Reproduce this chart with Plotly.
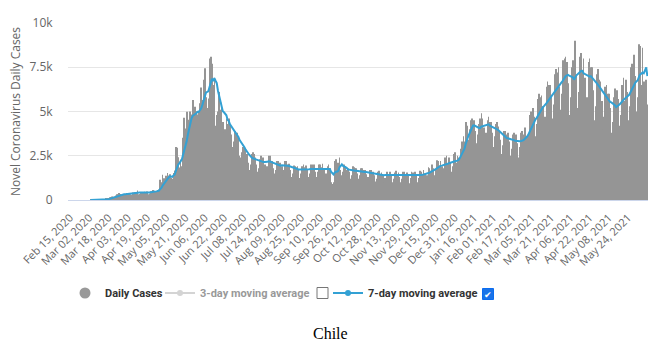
import pandas as pd
import plotly.graph_objects as go

START_DATE = "2020-02-15"

# Daily new cases, one row per week starting on Saturdays
DAILY_CASES = [
    0, 0, 0, 0, 0, 0, 0,
    0, 0, 0, 0, 0, 0, 0,
    0, 0, 0, 1, 2, 1, 1,
    3, 2, 3, 4, 6, 10, 10,
    25, 30, 90, 70, 80, 150, 170,
    200, 180, 200, 260, 330, 320, 390,
    340, 300, 280, 310, 330, 400, 390,
    370, 320, 300, 420, 430, 440, 430,
    540, 330, 340, 440, 400, 450, 470,
    440, 480, 320, 370, 500, 490, 560,
    520, 480, 490, 560, 600, 1140, 1000,
    1430, 1230, 980, 1370, 1530, 1390, 1450,
    1250, 1200, 1530, 1660, 3000, 2950, 2410,
    1840, 2280, 1910, 3520, 4640, 4040, 4980,
    4540, 4210, 5000, 4830, 5650, 4300, 5270,
    5010, 4830, 4950, 5470, 6350, 5650, 6800,
    7450, 5800, 5200, 5740, 8000, 8100, 7700,
    6500, 6900, 4200, 4800, 5000, 6100, 5100,
    5500, 4400, 3800, 4000, 4600, 4300, 4600,
    4200, 3700, 3000, 3300, 3900, 3700, 3800,
    3500, 2500, 2400, 2700, 3000, 3000, 2800,
    2600, 2100, 1700, 2000, 2600, 2700, 2600,
    2400, 2000, 1600, 1800, 2300, 2500, 2400,
    2400, 2000, 1600, 1900, 2500, 2500, 2200,
    2200, 1800, 1500, 1700, 2200, 2200, 2100,
    2100, 1900, 1400, 1700, 2200, 2200, 2000,
    2050, 1700, 1300, 1500, 1950, 1900, 1850,
    1900, 1700, 1250, 1500, 1900, 2000, 1850,
    1950, 1700, 1300, 1500, 2000, 2000, 1900,
    2000, 1600, 1300, 1600, 2000, 2000, 1850,
    2050, 1700, 1300, 1500, 1900, 2000, 1800,
    1000, 900, 1000, 2200, 2300, 2000, 2100,
    2400, 1700, 1400, 1600, 2000, 1900, 1700,
    1800, 1600, 1200, 1400, 1900, 1850, 1800,
    1800, 1500, 1200, 1400, 1800, 1800, 1700,
    1700, 1450, 1100, 1300, 1700, 1700, 1550,
    1600, 1400, 1050, 1200, 1600, 1650, 1450,
    1550, 1350, 1000, 1250, 1600, 1600, 1450,
    1600, 1350, 1000, 1200, 1550, 1650, 1450,
    1550, 1300, 1000, 1200, 1600, 1600, 1400,
    1550, 1350, 950, 1250, 1600, 1550, 1400,
    1600, 1400, 1000, 1250, 1650, 1600, 1450,
    1700, 1500, 1150, 1400, 1850, 1800, 1650,
    2000, 1800, 1400, 1700, 2250, 2200, 1950,
    2200, 1900, 1500, 1800, 2400, 2500, 2050,
    2400, 2100, 1600, 1900, 2600, 2700, 2100,
    2500, 2400, 2300, 2900, 3300, 3600, 3300,
    4400, 4200, 3400, 4000, 4500, 4600, 4300,
    4500, 3900, 3200, 3700, 4300, 4600, 4900,
    4600, 4100, 3300, 3800, 4500, 4700, 4400,
    4400, 3800, 3000, 3600, 4300, 4400, 4150,
    3900, 3400, 2600, 3100, 3900, 3900, 3700,
    3800, 3300, 2500, 2900, 3700, 3800, 3450,
    3700, 3200, 2400, 3000, 3800, 3900, 3700,
    4100, 3600, 3000, 3700, 4800, 5000, 4900,
    5200, 4700, 3600, 4300, 5700, 6000, 5800,
    5900, 5300, 4100, 4700, 6400, 6700, 6500,
    6500, 5900, 4600, 5400, 7100, 7400, 7200,
    7500, 6400, 5100, 6000, 7900, 8000, 8100,
    7800, 6600, 4800, 5800, 7500, 7900, 7200,
    9000, 7100, 5200, 6100, 8100, 8300, 7300,
    8000, 6900, 5000, 5800, 7800, 8000, 7500,
    7500, 6200, 4500, 5300, 7100, 7400, 6800,
    6700, 5600, 4000, 4700, 6400, 6500, 6000,
    6000, 5200, 3800, 4400, 5800, 6300, 5250,
    6200, 5700, 4200, 4800, 6500, 6900, 5600,
    6800, 6100, 4500, 5300, 7500, 7700, 6200,
    8200, 7000, 5000, 5800, 8800, 8700, 6500,
    8600, 6700, 6300, 6800, 5400,
]

TICK_LABELS = [
    "Feb 15, 2020", "Mar 02, 2020", "Mar 18, 2020", "Apr 03, 2020", "Apr 19, 2020",
    "May 05, 2020", "May 21, 2020", "Jun 06, 2020", "Jun 22, 2020", "Jul 08, 2020",
    "Jul 24, 2020", "Aug 09, 2020", "Aug 25, 2020", "Sep 10, 2020", "Sep 26, 2020",
    "Oct 12, 2020", "Oct 28, 2020", "Nov 13, 2020", "Nov 29, 2020", "Dec 15, 2020",
    "Dec 31, 2020", "Jan 16, 2021", "Feb 01, 2021", "Feb 17, 2021", "Mar 05, 2021",
    "Mar 21, 2021", "Apr 06, 2021", "Apr 22, 2021", "May 08, 2021", "May 24, 2021",
]

Y_TICKS = [0, 2500, 5000, 7500, 10000]
Y_TICK_TEXT = ["0", "2.5k", "5k", "7.5k", "10k"]

dates = pd.date_range(START_DATE, periods=len(DAILY_CASES), freq="D")
categories = [d.strftime("%b %d, %Y") for d in dates]
s = pd.Series(DAILY_CASES, dtype=float)
first = next(i for i, v in enumerate(DAILY_CASES) if v > 0)
ma7 = s.rolling(7, min_periods=1).mean()
ma3 = s.rolling(3, min_periods=1).mean()
ma7[:first] = None
ma3[:first] = None

BLUE = "#33a1d4"
GRAY = "#999999"

fig = go.Figure()
fig.add_trace(go.Bar(x=categories, y=DAILY_CASES, marker=dict(color="#959595", line=dict(width=0)),
                     showlegend=False, legendgroup="daily", name="Daily Cases"))
fig.add_trace(go.Scatter(x=[None], y=[None], mode="markers", name="Daily Cases", legendgroup="daily",
                         legend="legend", marker=dict(symbol="circle", size=11, color=GRAY)))
fig.add_trace(go.Scatter(x=categories, y=ma3, mode="lines+markers", name="3-day moving average",
                         visible="legendonly", legend="legend2", line=dict(color="#aaaaaa", width=2),
                         marker=dict(size=6, color="#aaaaaa")))
fig.add_trace(go.Scatter(x=[None], y=[None], mode="lines+markers", name="7-day moving average",
                         legendgroup="ma7", legend="legend3", line=dict(color=BLUE, width=2),
                         marker=dict(size=6, color=BLUE)))
fig.add_trace(go.Scatter(x=categories, y=ma7, mode="lines", showlegend=False, legendgroup="ma7",
                         name="7-day moving average", line=dict(color=BLUE, width=2)))

def px(xp):
    return (xp - 68) / 580.0

def py(yp):
    return (200 - yp) / 177.0

def legend_at(xpix):
    return dict(orientation="h", x=px(xpix), y=py(293), xanchor="left", yanchor="middle",
                font=dict(family="Roboto, Arial, sans-serif", size=11, color="#333333", weight="bold"),
                itemwidth=30, bgcolor="rgba(0,0,0,0)")

fig.update_layout(
    width=660, height=349,
    margin=dict(l=68, r=12, t=23, b=149),
    paper_bgcolor="white", plot_bgcolor="white",
    bargap=0.45,
    font=dict(family="Open Sans, Arial, sans-serif", color="#666666"),
    legend=legend_at(65),
    legend2=legend_at(160),
    legend3=legend_at(328),
    xaxis=dict(type="category", range=[-1.66, 480.5], tickmode="array", tickvals=TICK_LABELS,
               ticktext=TICK_LABELS, tickangle=-45, tickfont=dict(size=11, color="#666666"),
               showgrid=False, showline=True, linecolor="#ccd6eb", ticks="outside", ticklen=6,
               tickcolor="rgba(0,0,0,0)", zeroline=False),
    yaxis=dict(range=[0, 10000], tickvals=Y_TICKS, ticktext=Y_TICK_TEXT,
               tickfont=dict(size=12, color="#666666"), gridcolor="#e6e6e6", zeroline=False,
               ticks="outside", ticklen=12, tickcolor="rgba(0,0,0,0)",
               title=dict(text="Novel Coronavirus Daily Cases", font=dict(size=12, color="#666666"),
                          standoff=6)),
    shapes=[
        dict(type="rect", xref="paper", yref="paper", x0=px(317), x1=px(328), y0=py(298.5), y1=py(287.5),
             line=dict(color="#767676", width=1), fillcolor="white"),
        dict(type="rect", xref="paper", yref="paper", x0=px(482.5), x1=px(493.5), y0=py(299.5), y1=py(288.5),
             line=dict(color="#0b6cf0", width=1), fillcolor="#1a73e8"),
    ],
    annotations=[
        dict(text="✔", xref="paper", yref="paper", x=px(488), y=py(294), showarrow=False,
             font=dict(size=9, color="white"), xanchor="center", yanchor="middle"),
        dict(text="Chile", xref="paper", yref="paper", x=px(330), y=py(333), showarrow=False,
             font=dict(family="Liberation Serif, Times New Roman, serif", size=16, color="#000000"),
             xanchor="center", yanchor="middle"),
    ],
)

fig.write_html("out.html")
